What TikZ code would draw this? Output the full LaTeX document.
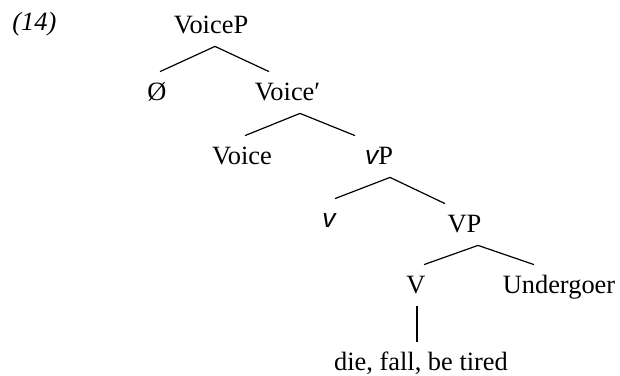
\documentclass[tikz,border=0pt]{standalone}
\usepackage{fontspec}
\setmainfont{Liberation Serif}
\newfontfamily\sansfam{Liberation Sans}
\newcommand{\lv}{{\sansfam\itshape v}}
\tikzset{
  cat/.style={anchor=base,inner sep=0pt,text height=14pt,text depth=6.5pt,font=\fontsize{13.2}{16}\selectfont},
  branch/.style={line width=0.6pt}
}
\begin{document}
\begin{tikzpicture}[x=0.5pt,y=-0.5pt]
  \useasboundingbox (0,0) rectangle (620,375);
  % example number
  \node[cat,anchor=base west,font=\fontsize{13.2}{16}\selectfont\itshape] (exno) at (12,30) {(14)};
  % categories
  \node[cat] (VoiceP) at (211,33) {VoiceP};
  \node[cat] (null) at (157,100) {Ø};
  \node[cat] (Voicebar) at (287.5,100) {Voice′};
  \node[cat] (Voice) at (242,164) {Voice};
  \node[cat] (vP) at (379,164) {\lv P};
  \node[cat] (v) at (329,227) {\lv};
  \node[cat] (VP) at (464.5,232) {VP};
  \node[cat] (V) at (416,293) {V};
  \node[cat] (Undergoer) at (559,293) {Undergoer};
  \node[cat] (lex) at (421,370) {die, fall, be tired};
  % branches
  \draw[branch] ([xshift=2pt]VoiceP.south) -- ([xshift=1.5pt]null.north);
  \draw[branch] ([xshift=2pt]VoiceP.south) -- ([xshift=-9.25pt]Voicebar.north);
  \draw[branch] ([xshift=6.25pt]Voicebar.south) -- ([xshift=1.5pt]Voice.north);
  \draw[branch] ([xshift=6.25pt]Voicebar.south) -- ([xshift=-12pt]vP.north);
  \draw[branch] ([xshift=5.5pt]vP.south) -- ([xshift=3pt]v.north);
  \draw[branch] ([xshift=5.5pt]vP.south) -- ([xshift=-9.75pt]VP.north);
  \draw[branch] ([xshift=6.75pt]VP.south) -- ([xshift=4pt]V.north);
  \draw[branch] ([xshift=6.75pt]VP.south) -- ([xshift=-12.5pt]Undergoer.north);
  \draw[branch] ([xshift=0.5pt]V.south) -- ([xshift=-2pt]lex.north);
\end{tikzpicture}
\end{document}
